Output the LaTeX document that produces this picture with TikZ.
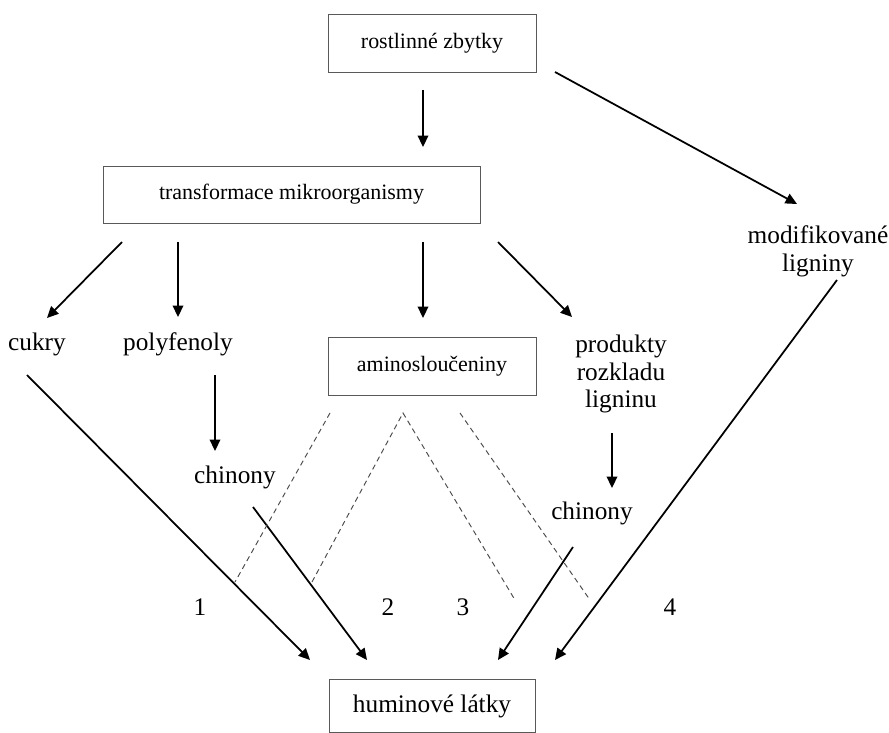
\documentclass[tikz,border=0pt]{standalone}
\usepackage{fontspec}
\setmainfont{Liberation Serif}
\usetikzlibrary{arrows.meta}

\tikzset{
  box/.style={draw=black!65, line width=0.5pt, minimum width=4.16cm, minimum height=1.16cm, inner sep=0pt, font=\fontsize{12.5}{15.5}\selectfont},
  txt/.style={align=center, inner sep=0pt, font=\fontsize{14.4}{15.8}\selectfont},
  arr/.style={-{Triangle[length=6.5pt,width=6pt]}, line width=1pt},
  dsh/.style={dashed, dash pattern=on 3pt off 2.2pt, draw=black!70, line width=0.55pt}
}

\begin{document}
\begin{tikzpicture}[x=0.02cm,y=-0.02cm]

\useasboundingbox (0,0) rectangle (889,733);

% Kasten
\node[box] (rz) at (432,43) {rostlinné zbytky};
\node[box, minimum width=7.54cm, minimum height=1.14cm] (tm) at (291.5,194.5) {transformace mikroorganismy};
\node[box] (am) at (432,366) {aminosloučeniny};
\node[box, minimum width=4.12cm, minimum height=1.06cm, font=\fontsize{14.4}{15.8}\selectfont] (hl) at (432,706) {huminové látky};

% Texte
\node[txt] (cu) at (37,344) {cukry};
\node[txt] (pf) at (178,344) {polyfenoly};
\node[txt] (ch1) at (235,477) {chinony};
\node[txt] (pr) at (621,374) {produkty\\rozkladu\\ligninu};
\node[txt] (ch2) at (592,513) {chinony};
\node[txt] (ml) at (818,251) {modifikované\\ligniny};

% Endpunkte
\coordinate (rz1) at (423,90);   \coordinate (tm0) at (423,147);
\coordinate (rz2) at (555,72);   \coordinate (ml0) at (797,204);
\coordinate (tm1) at (122,242);  \coordinate (cu0) at (47,318);
\coordinate (tm2) at (178,242);  \coordinate (pf0) at (178,317);
\coordinate (tm3) at (423,242);  \coordinate (am0) at (423,318);
\coordinate (tm4) at (498,242);  \coordinate (pr0) at (572,317);
\coordinate (pf1) at (215,375);  \coordinate (ch10) at (215,451);
\coordinate (pr1) at (612,433);  \coordinate (ch20) at (612,488);
\coordinate (cu1) at (27,375);   \coordinate (hl1) at (310,660);
\coordinate (ch11) at (253,507); \coordinate (hl2) at (367,660);
\coordinate (ch21) at (573,547); \coordinate (hl3) at (498,660);
\coordinate (ml1) at (837,280);  \coordinate (hl4) at (555,660);

\draw[arr] (rz1) -- (tm0);
\draw[arr] (rz2) -- (ml0);
\draw[arr] (tm1) -- (cu0);
\draw[arr] (tm2) -- (pf0);
\draw[arr] (tm3) -- (am0);
\draw[arr] (tm4) -- (pr0);
\draw[arr] (pf1) -- (ch10);
\draw[arr] (pr1) -- (ch20);
\draw[arr] (cu1) -- (hl1);
\draw[arr] (ch11) -- (hl2);
\draw[arr] (ch21) -- (hl3);
\draw[arr] (ml1) -- (hl4);

% gestrichelt
\coordinate (d1a) at (330,413); \coordinate (d1b) at (235,582);
\coordinate (d2a) at (312,582); \coordinate (d2t) at (403,413); \coordinate (d2b) at (515,600);
\coordinate (d3a) at (460,413); \coordinate (d3b) at (590,600);
\draw[dsh] (d1a) -- (d1b);
\draw[dsh] (d2a) -- (d2t) -- (d2b);
\draw[dsh] (d3a) -- (d3b);

%Beschriftung
\node[txt] (n1) at (200,607) {1};
\node[txt] (n2) at (388,607) {2};
\node[txt] (n3) at (463,607) {3};
\node[txt] (n4) at (670,607) {4};

\end{tikzpicture}
\end{document}
